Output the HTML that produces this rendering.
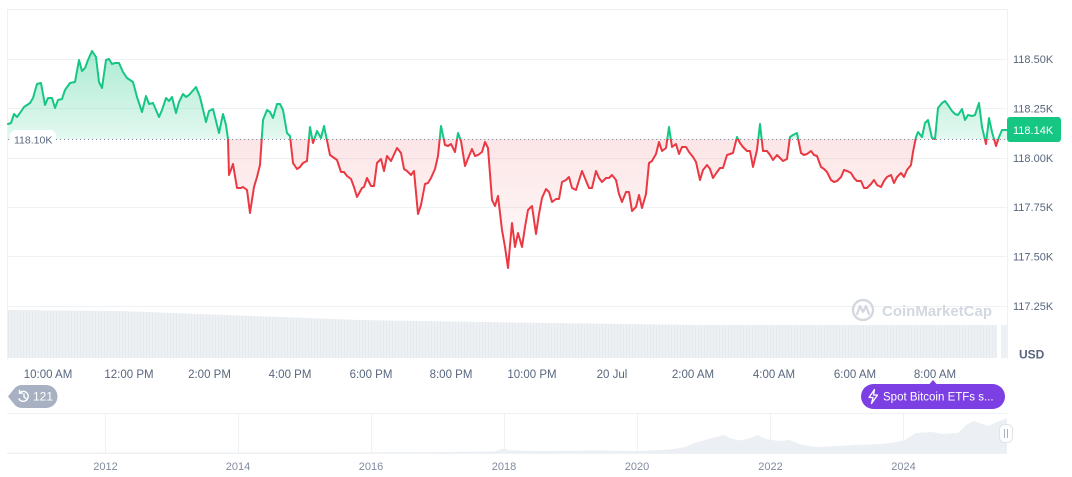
<!DOCTYPE html>
<html>
<head>
<meta charset="utf-8">
<style>
html,body{margin:0;padding:0;background:#fff;}
body{width:1072px;height:477px;overflow:hidden;font-family:"Liberation Sans",sans-serif;}
svg{display:block;}
</style>
</head>
<body>
<svg width="1072" height="477" viewBox="0 0 1072 477" xmlns="http://www.w3.org/2000/svg" font-family="Liberation Sans, sans-serif">
<defs>
  <linearGradient id="gG" x1="0" y1="50" x2="0" y2="139" gradientUnits="userSpaceOnUse">
    <stop offset="0" stop-color="#16c784" stop-opacity="0.36"/>
    <stop offset="1" stop-color="#16c784" stop-opacity="0.12"/>
  </linearGradient>
  <linearGradient id="rG" x1="0" y1="139" x2="0" y2="270" gradientUnits="userSpaceOnUse">
    <stop offset="0" stop-color="#ea3943" stop-opacity="0.13"/>
    <stop offset="1" stop-color="#ea3943" stop-opacity="0.02"/>
  </linearGradient>
  <clipPath id="above"><rect x="0" y="0" width="1072" height="139"/></clipPath>
  <clipPath id="below"><rect x="0" y="139" width="1072" height="240"/></clipPath>
  <pattern id="vol" width="3" height="10" patternUnits="userSpaceOnUse">
    <rect x="0" y="0" width="3" height="10" fill="#eef1f4"/>
    <rect x="2" y="0" width="1" height="10" fill="#e6e9ee"/>
  </pattern>
</defs>

<!-- grid -->
<g stroke="#eff2f5" stroke-width="1">
  <line x1="7" y1="9.5" x2="1007" y2="9.5"/>
  <line x1="7" y1="59.5" x2="1007" y2="59.5"/>
  <line x1="7" y1="108.5" x2="1007" y2="108.5"/>
  <line x1="7" y1="158.5" x2="1007" y2="158.5"/>
  <line x1="7" y1="207.5" x2="1007" y2="207.5"/>
  <line x1="7" y1="256.5" x2="1007" y2="256.5"/>
  <line x1="7" y1="306.5" x2="1007" y2="306.5"/>
  <line x1="7.5" y1="9" x2="7.5" y2="359"/>
  <line x1="1007.5" y1="9" x2="1007.5" y2="359"/>
</g>

<!-- volume -->
<polygon points="8,310 120,311 200,314 360,320 550,323 700,325 997,325 997,358 8,358" fill="url(#vol)"/>
<rect x="1001" y="325" width="6" height="33" fill="#eef1f4"/>

<!-- watermark -->
<g opacity="1">
  <circle cx="863" cy="310" r="10" fill="none" stroke="#d3d8e0" stroke-width="2.4"/>
  <path d="M857,314 L860,306 L863,312 L866,306 L869,314" fill="none" stroke="#d3d8e0" stroke-width="2.2" stroke-linejoin="round" stroke-linecap="round"/>
  <text x="882" y="316" font-size="15" font-weight="bold" fill="#d3d8e0">CoinMarketCap</text>
</g>

<!-- area fills -->
<g id="areas">
<polygon clip-path="url(#above)" fill="url(#gG)" points="8,139 8,124 11,123 14,114 17,117 20,113 24,107 30,103 33,98 37,84 41,83 45,105 48,98 52,98 55,108 58,100 62,99 65,90 70,83 75,82 79,60 82,71 85,68 88,60 92,51 96,57 99,82 102,88 106,60 109,59 112,64 115,63 119,63 123,72 127,78 133,82 137,97 142,112 146,96 149,104 153,103 159,117 162,110 166,98 169,101 172,97 176,113 179,102 183,94 186,97 189,95 196,87 200,97 206,122 209,111 213,109 219,133 223,114 226,125 228,139 229,175 233,164 237,188 241,188 243,187 247,190 250,213 254,187 257,177 260,165 263,120 267,110 270,112 273,118 277,104 280,104 283,110 287,133 290,136 293,163 297,169 300,167 303,163 307,161 310,127 313,143 317,131 321,138 324,126 330,155 337,160 341,172 344,172 347,176 351,179 354,187 357,197 362,188 364,187 367,178 371,186 374,186 377,163 381,159 384,171 387,156 391,161 397,148 401,153 404,169 407,171 411,175 414,171 418,214 421,205 425,184 428,183 431,178 435,169 438,156 441,126 445,145 448,146 451,144 455,152 458,133 461,141 465,166 469,156 472,149 475,156 478,155 482,152 485,142 488,148 492,200 495,206 498,196 502,230 505,247 508,268 512,223 515,247 518,233 522,247 525,227 528,210 532,206 536,234 539,214 542,198 546,189 549,192 552,202 556,199 559,199 562,182 566,180 569,177 572,188 576,190 582,171 589,188 592,188 596,171 599,178 602,182 606,178 609,178 612,175 616,180 619,194 622,202 626,192 629,192 632,211 636,207 639,195 642,208 646,194 649,163 652,161 656,154 659,142 662,151 666,148 669,127 672,147 676,144 679,154 682,147 686,147 689,152 693,157 696,162 700,180 703,170 707,165 710,169 713,178 717,172 720,168 723,168 727,155 733,153 737,137 740,143 743,147 747,151 750,151 753,167 757,150 760,124 763,151 767,151 770,155 773,160 777,155 780,158 783,161 787,159 790,137 793,135 797,133 801,153 804,155 807,154 811,151 814,155 817,156 821,167 824,169 827,172 831,180 834,182 837,181 841,177 844,170 847,171 851,173 854,178 857,181 861,181 864,188 867,188 871,184 874,180 877,185 881,187 884,181 887,177 891,175 894,183 897,177 901,173 904,177 907,170 911,165 913,152 916,137 918,132 922,137 925,123 928,120 932,138 935,139 938,108 942,103 945,101 948,105 952,111 955,114 958,115 962,109 965,120 968,115 972,116 975,115 979,103 982,127 986,144 989,118 992,132 996,146 999,137 1002,130 1007,130 1007,139"/>
<polygon clip-path="url(#below)" fill="url(#rG)" points="8,139 8,124 11,123 14,114 17,117 20,113 24,107 30,103 33,98 37,84 41,83 45,105 48,98 52,98 55,108 58,100 62,99 65,90 70,83 75,82 79,60 82,71 85,68 88,60 92,51 96,57 99,82 102,88 106,60 109,59 112,64 115,63 119,63 123,72 127,78 133,82 137,97 142,112 146,96 149,104 153,103 159,117 162,110 166,98 169,101 172,97 176,113 179,102 183,94 186,97 189,95 196,87 200,97 206,122 209,111 213,109 219,133 223,114 226,125 228,139 229,175 233,164 237,188 241,188 243,187 247,190 250,213 254,187 257,177 260,165 263,120 267,110 270,112 273,118 277,104 280,104 283,110 287,133 290,136 293,163 297,169 300,167 303,163 307,161 310,127 313,143 317,131 321,138 324,126 330,155 337,160 341,172 344,172 347,176 351,179 354,187 357,197 362,188 364,187 367,178 371,186 374,186 377,163 381,159 384,171 387,156 391,161 397,148 401,153 404,169 407,171 411,175 414,171 418,214 421,205 425,184 428,183 431,178 435,169 438,156 441,126 445,145 448,146 451,144 455,152 458,133 461,141 465,166 469,156 472,149 475,156 478,155 482,152 485,142 488,148 492,200 495,206 498,196 502,230 505,247 508,268 512,223 515,247 518,233 522,247 525,227 528,210 532,206 536,234 539,214 542,198 546,189 549,192 552,202 556,199 559,199 562,182 566,180 569,177 572,188 576,190 582,171 589,188 592,188 596,171 599,178 602,182 606,178 609,178 612,175 616,180 619,194 622,202 626,192 629,192 632,211 636,207 639,195 642,208 646,194 649,163 652,161 656,154 659,142 662,151 666,148 669,127 672,147 676,144 679,154 682,147 686,147 689,152 693,157 696,162 700,180 703,170 707,165 710,169 713,178 717,172 720,168 723,168 727,155 733,153 737,137 740,143 743,147 747,151 750,151 753,167 757,150 760,124 763,151 767,151 770,155 773,160 777,155 780,158 783,161 787,159 790,137 793,135 797,133 801,153 804,155 807,154 811,151 814,155 817,156 821,167 824,169 827,172 831,180 834,182 837,181 841,177 844,170 847,171 851,173 854,178 857,181 861,181 864,188 867,188 871,184 874,180 877,185 881,187 884,181 887,177 891,175 894,183 897,177 901,173 904,177 907,170 911,165 913,152 916,137 918,132 922,137 925,123 928,120 932,138 935,139 938,108 942,103 945,101 948,105 952,111 955,114 958,115 962,109 965,120 968,115 972,116 975,115 979,103 982,127 986,144 989,118 992,132 996,146 999,137 1002,130 1007,130 1007,139"/>
</g>

<!-- baseline dotted -->
<line x1="8" y1="139.5" x2="1007" y2="139.5" stroke="#8a93a6" stroke-width="1" stroke-dasharray="1.2,2.8"/>

<!-- price line -->
<g fill="none" stroke-width="2" stroke-linejoin="round" stroke-linecap="round">
<polyline id="pl" clip-path="url(#above)" stroke="#16c784" points="8,124 11,123 14,114 17,117 20,113 24,107 30,103 33,98 37,84 41,83 45,105 48,98 52,98 55,108 58,100 62,99 65,90 70,83 75,82 79,60 82,71 85,68 88,60 92,51 96,57 99,82 102,88 106,60 109,59 112,64 115,63 119,63 123,72 127,78 133,82 137,97 142,112 146,96 149,104 153,103 159,117 162,110 166,98 169,101 172,97 176,113 179,102 183,94 186,97 189,95 196,87 200,97 206,122 209,111 213,109 219,133 223,114 226,125 228,139 229,175 233,164 237,188 241,188 243,187 247,190 250,213 254,187 257,177 260,165 263,120 267,110 270,112 273,118 277,104 280,104 283,110 287,133 290,136 293,163 297,169 300,167 303,163 307,161 310,127 313,143 317,131 321,138 324,126 330,155 337,160 341,172 344,172 347,176 351,179 354,187 357,197 362,188 364,187 367,178 371,186 374,186 377,163 381,159 384,171 387,156 391,161 397,148 401,153 404,169 407,171 411,175 414,171 418,214 421,205 425,184 428,183 431,178 435,169 438,156 441,126 445,145 448,146 451,144 455,152 458,133 461,141 465,166 469,156 472,149 475,156 478,155 482,152 485,142 488,148 492,200 495,206 498,196 502,230 505,247 508,268 512,223 515,247 518,233 522,247 525,227 528,210 532,206 536,234 539,214 542,198 546,189 549,192 552,202 556,199 559,199 562,182 566,180 569,177 572,188 576,190 582,171 589,188 592,188 596,171 599,178 602,182 606,178 609,178 612,175 616,180 619,194 622,202 626,192 629,192 632,211 636,207 639,195 642,208 646,194 649,163 652,161 656,154 659,142 662,151 666,148 669,127 672,147 676,144 679,154 682,147 686,147 689,152 693,157 696,162 700,180 703,170 707,165 710,169 713,178 717,172 720,168 723,168 727,155 733,153 737,137 740,143 743,147 747,151 750,151 753,167 757,150 760,124 763,151 767,151 770,155 773,160 777,155 780,158 783,161 787,159 790,137 793,135 797,133 801,153 804,155 807,154 811,151 814,155 817,156 821,167 824,169 827,172 831,180 834,182 837,181 841,177 844,170 847,171 851,173 854,178 857,181 861,181 864,188 867,188 871,184 874,180 877,185 881,187 884,181 887,177 891,175 894,183 897,177 901,173 904,177 907,170 911,165 913,152 916,137 918,132 922,137 925,123 928,120 932,138 935,139 938,108 942,103 945,101 948,105 952,111 955,114 958,115 962,109 965,120 968,115 972,116 975,115 979,103 982,127 986,144 989,118 992,132 996,146 999,137 1002,130 1007,130"/>
<polyline clip-path="url(#below)" stroke="#ea3943" points="8,124 11,123 14,114 17,117 20,113 24,107 30,103 33,98 37,84 41,83 45,105 48,98 52,98 55,108 58,100 62,99 65,90 70,83 75,82 79,60 82,71 85,68 88,60 92,51 96,57 99,82 102,88 106,60 109,59 112,64 115,63 119,63 123,72 127,78 133,82 137,97 142,112 146,96 149,104 153,103 159,117 162,110 166,98 169,101 172,97 176,113 179,102 183,94 186,97 189,95 196,87 200,97 206,122 209,111 213,109 219,133 223,114 226,125 228,139 229,175 233,164 237,188 241,188 243,187 247,190 250,213 254,187 257,177 260,165 263,120 267,110 270,112 273,118 277,104 280,104 283,110 287,133 290,136 293,163 297,169 300,167 303,163 307,161 310,127 313,143 317,131 321,138 324,126 330,155 337,160 341,172 344,172 347,176 351,179 354,187 357,197 362,188 364,187 367,178 371,186 374,186 377,163 381,159 384,171 387,156 391,161 397,148 401,153 404,169 407,171 411,175 414,171 418,214 421,205 425,184 428,183 431,178 435,169 438,156 441,126 445,145 448,146 451,144 455,152 458,133 461,141 465,166 469,156 472,149 475,156 478,155 482,152 485,142 488,148 492,200 495,206 498,196 502,230 505,247 508,268 512,223 515,247 518,233 522,247 525,227 528,210 532,206 536,234 539,214 542,198 546,189 549,192 552,202 556,199 559,199 562,182 566,180 569,177 572,188 576,190 582,171 589,188 592,188 596,171 599,178 602,182 606,178 609,178 612,175 616,180 619,194 622,202 626,192 629,192 632,211 636,207 639,195 642,208 646,194 649,163 652,161 656,154 659,142 662,151 666,148 669,127 672,147 676,144 679,154 682,147 686,147 689,152 693,157 696,162 700,180 703,170 707,165 710,169 713,178 717,172 720,168 723,168 727,155 733,153 737,137 740,143 743,147 747,151 750,151 753,167 757,150 760,124 763,151 767,151 770,155 773,160 777,155 780,158 783,161 787,159 790,137 793,135 797,133 801,153 804,155 807,154 811,151 814,155 817,156 821,167 824,169 827,172 831,180 834,182 837,181 841,177 844,170 847,171 851,173 854,178 857,181 861,181 864,188 867,188 871,184 874,180 877,185 881,187 884,181 887,177 891,175 894,183 897,177 901,173 904,177 907,170 911,165 913,152 916,137 918,132 922,137 925,123 928,120 932,138 935,139 938,108 942,103 945,101 948,105 952,111 955,114 958,115 962,109 965,120 968,115 972,116 975,115 979,103 982,127 986,144 989,118 992,132 996,146 999,137 1002,130 1007,130"/>
</g>

<!-- left baseline label -->
<rect x="10" y="130" width="46" height="19" rx="6" fill="#ffffff"/>
<text x="14" y="143.5" font-size="10.5" fill="#58667e">118.10K</text>

<!-- right axis labels -->
<g font-size="11" fill="#58667e">
  <text x="1013" y="63">118.50K</text>
  <text x="1013" y="112.5">118.25K</text>
  <text x="1013" y="162">118.00K</text>
  <text x="1013" y="211">117.75K</text>
  <text x="1013" y="260.5">117.50K</text>
  <text x="1013" y="310">117.25K</text>
</g>
<rect x="1007" y="117" width="54" height="25" rx="3" fill="#16c784"/>
<text x="1013" y="134" font-size="11" fill="#ffffff">118.14K</text>
<text x="1019" y="358.5" font-size="12" font-weight="bold" fill="#58667e">USD</text>

<!-- time labels -->
<g font-size="11.5" fill="#58667e" text-anchor="middle">
  <text x="48" y="378">10:00 AM</text>
  <text x="129" y="378">12:00 PM</text>
  <text x="209.5" y="378">2:00 PM</text>
  <text x="290" y="378">4:00 PM</text>
  <text x="371" y="378">6:00 PM</text>
  <text x="451" y="378">8:00 PM</text>
  <text x="532" y="378">10:00 PM</text>
  <text x="612" y="378">20 Jul</text>
  <text x="693" y="378">2:00 AM</text>
  <text x="774" y="378">4:00 AM</text>
  <text x="855" y="378">6:00 AM</text>
  <text x="935" y="378">8:00 AM</text>
</g>

<!-- 121 badge -->
<path d="M8,396.5 L14,389 Q17,385 22,385 L46,385 A11.5,11.5 0 0 1 46,408 L22,408 Q17,408 14,404 Z" fill="#a7b1c2"/>
<g fill="none" stroke="#ffffff" stroke-width="1.4" stroke-linecap="round">
  <path d="M19.5,393 A5,5 0 1 1 19,399"/>
  <path d="M19.5,390.5 L19.5,393.2 L22.2,393.2"/>
  <path d="M24,394 L24,397 L26,398.5"/>
</g>
<text x="33" y="400.5" font-size="12" fill="#ffffff">121</text>

<!-- purple badge -->
<path d="M929,384.5 L933,380 L937,384.5 Z" fill="#7b3fe4"/>
<rect x="861" y="384" width="144" height="25" rx="12.5" fill="#7b3fe4"/>
<path d="M874.5,389.5 L869,397.5 L873,397.5 L871.5,403.5 L877.5,395 L873.5,395 Z" fill="none" stroke="#ffffff" stroke-width="1.3" stroke-linejoin="round"/>
<text x="883" y="400.5" font-size="11.5" fill="#ffffff">Spot Bitcoin ETFs s...</text>

<!-- navigator -->
<g stroke="#eff2f5" stroke-width="1">
  <line x1="7" y1="413.5" x2="1007" y2="413.5"/>
  <line x1="7" y1="453.5" x2="1007" y2="453.5"/>
  <line x1="105.5" y1="413" x2="105.5" y2="453"/>
  <line x1="238.5" y1="413" x2="238.5" y2="453"/>
  <line x1="371.5" y1="413" x2="371.5" y2="453"/>
  <line x1="504.5" y1="413" x2="504.5" y2="453"/>
  <line x1="637.5" y1="413" x2="637.5" y2="453"/>
  <line x1="770.5" y1="413" x2="770.5" y2="453"/>
  <line x1="903.5" y1="413" x2="903.5" y2="453"/>
</g>
<polygon fill="#eceff3" points="7,453 7,452.6 300,452.5 420,452.2 495,451.5 500,449.5 504,448.5 510,450.5 540,451 600,450.5 640,451 670,449.5 685,447 695,443 705,440 716,437 724,435 731,438.5 739,440.5 747,439 758,435 766,439 778,441 789,440 801,444.5 816,447 839,446 855,445 882,444 897,442 905,440 916,433 932,432 943,434 958,433 966,425 974,421 982,424 989,426 997,422 1007,418 1007,453"/>
<g font-size="11" fill="#808a9d" text-anchor="middle">
  <text x="105.5" y="470">2012</text>
  <text x="238" y="470">2014</text>
  <text x="371" y="470">2016</text>
  <text x="504" y="470">2018</text>
  <text x="637" y="470">2020</text>
  <text x="770.5" y="470">2022</text>
  <text x="903.5" y="470">2024</text>
</g>
<rect x="999.5" y="424.5" width="13" height="18" rx="5" fill="#ffffff" stroke="#dfe3ea" stroke-width="1"/>
<line x1="1004.5" y1="429" x2="1004.5" y2="438" stroke="#a6b0c3" stroke-width="1"/>
<line x1="1007.5" y1="429" x2="1007.5" y2="438" stroke="#a6b0c3" stroke-width="1"/>
</svg>
</body>
</html>
